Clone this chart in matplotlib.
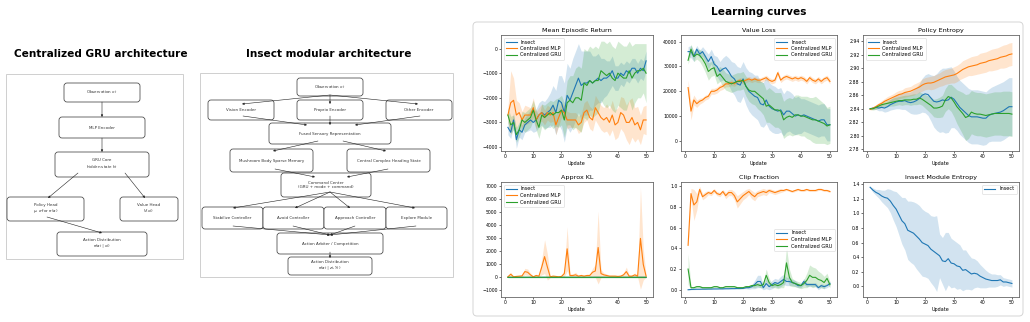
import matplotlib
matplotlib.use("Agg")
import matplotlib.pyplot as plt
from matplotlib.patches import FancyBboxPatch, Rectangle
import numpy as np

# ---------------- data ----------------
updates = list(range(1, 51))
series_names = ["Insect", "Centralized MLP", "Centralized GRU"]

ret_insect = [-3200, -3400, -2900, -3700, -3300, -3400, -3100, -3000, -2900, -3000,
              -2900, -2700, -2600, -2700, -2600, -2500, -2300, -2600, -2100, -2200,
              -2600, -1900, -2100, -1800, -1500, -1200, -1500, -1400, -1400, -1300,
              -1400, -1300, -1200, -1300, -1200, -1200, -1100, -900, -1200, -1200,
              -1000, -1100, -900, -1000, -800, -800, -1000, -800, -900, -500]
ret_insect_std = [300, 250, 300, 350, 300, 300, 300, 350, 400, 400,
                  450, 500, 500, 550, 600, 700, 800, 900, 1000, 1100,
                  1200, 1300, 1300, 1400, 1400, 1400, 1400, 1300, 1300, 1200,
                  1100, 1000, 1000, 900, 800, 700, 600, 600, 500, 500,
                  450, 450, 400, 400, 400, 400, 400, 400, 400, 400]
ret_mlp = [-2700, -2200, -2100, -2700, -2600, -2900, -2700, -2700, -2700, -2400,
           -2900, -2700, -2600, -2800, -2600, -2700, -2600, -3100, -2800, -2500,
           -2600, -2900, -2900, -2900, -2900, -3100, -3000, -2600, -2500, -2800,
           -2900, -2400, -2600, -2800, -2900, -2800, -3000, -2700, -3100, -3000,
           -2600, -2700, -3000, -3000, -2800, -3100, -3000, -3300, -2900, -2900]
ret_mlp_std = [300, 1300, 900, 600, 400, 350, 400, 350, 300, 400,
               350, 300, 350, 300, 300, 300, 350, 400, 350, 300,
               300, 350, 300, 300, 300, 350, 350, 400, 400, 450,
               450, 500, 500, 500, 500, 550, 550, 600, 600, 600,
               650, 700, 700, 900, 800, 700, 650, 600, 550, 600]
ret_gru = [-2700, -3100, -3000, -3500, -3300, -2900, -3000, -2900, -2800, -2500,
           -2900, -3200, -2700, -2800, -2700, -2600, -2700, -2600, -2600, -2500,
           -2900, -2200, -2100, -2200, -2000, -2000, -2100, -1400, -1500, -1300,
           -1400, -1300, -1300, -900, -1000, -1100, -1000, -1200, -1300, -1000,
           -1100, -1200, -1200, -900, -1200, -1000, -900, -900, -800, -1000]
ret_gru_std = [300, 350, 300, 300, 300, 350, 400, 400, 400, 400,
               400, 450, 450, 500, 500, 500, 550, 550, 600, 600,
               700, 900, 1000, 1100, 1200, 1300, 1300, 1400, 1400, 1400,
               1400, 1400, 1300, 1200, 1300, 1300, 1300, 1300, 1300, 1300,
               1300, 1300, 1300, 1200, 1300, 1200, 1100, 1100, 1000, 1200]

vl_insect = [36000, 36000, 34000, 37000, 35000, 36000, 34000, 32000, 34000, 31000,
             30000, 28000, 29000, 29500, 28000, 26000, 25000, 23000, 22500, 25000,
             22000, 20000, 19000, 18000, 17500, 15000, 14500, 16500, 14000, 13000,
             12500, 12000, 12500, 10500, 12000, 12000, 11000, 10000, 10500, 10000,
             10500, 10000, 9500, 9000, 8500, 8000, 8500, 8500, 6500, 6500]
vl_insect_std = [2000, 2500, 2000, 1500, 1500, 2000, 2500, 3000, 3000, 3500,
                 4000, 4000, 4500, 5000, 5500, 6000, 6500, 7000, 7000, 7000,
                 7500, 8000, 8500, 8500, 9000, 9000, 9000, 9500, 9500, 9500,
                 9500, 9000, 9000, 8500, 8500, 8000, 8000, 7500, 7500, 7000,
                 6500, 6500, 6500, 6500, 6500, 6500, 6500, 6500, 6500, 6500]
vl_mlp = [21500, 12000, 16500, 15000, 16000, 16500, 17500, 18000, 20000, 20000,
          20500, 21500, 22000, 23000, 23000, 23500, 23000, 24000, 24500, 24000,
          24500, 25000, 24500, 25000, 24500, 24500, 25000, 25500, 24500, 24000,
          24500, 27500, 24500, 25500, 26000, 25500, 25000, 25500, 25000, 25500,
          25000, 24000, 25500, 24500, 24000, 25000, 24000, 25000, 25500, 24000]
vl_mlp_std = [3000, 3500, 2000, 1500, 1200, 1000, 1000, 1000, 1200, 1200,
              1200, 1200, 1200, 1200, 1200, 1200, 1000, 1000, 1000, 1000,
              1000, 1000, 1000, 1000, 1000, 1000, 1000, 1000, 1000, 1000,
              1000, 1000, 1000, 1000, 1000, 1000, 1000, 1000, 1000, 1000,
              1000, 1000, 1000, 1000, 1000, 1000, 1000, 1000, 1000, 1000]
vl_gru = [32500, 37000, 34000, 35000, 34500, 33000, 31000, 28000, 29000, 29500,
          26000, 27000, 25500, 24000, 23500, 23000, 23500, 24000, 24000, 24500,
          22000, 20500, 20000, 20000, 19000, 18000, 17000, 14000, 14500, 13500,
          12500, 12500, 12000, 8500, 9500, 10000, 9500, 10500, 10500, 10000,
          10000, 9500, 9000, 8500, 8500, 8000, 7500, 7000, 6000, 6500]
vl_gru_std = [1500, 2000, 2000, 2000, 2500, 3000, 3500, 3500, 3000, 3000,
              3000, 3000, 3500, 3500, 3500, 3500, 3500, 3500, 3500, 3500,
              4000, 4500, 5000, 5500, 6000, 6000, 6500, 6500, 7000, 7000,
              7000, 7000, 7500, 7500, 7500, 7500, 7500, 8000, 8000, 8000,
              8000, 8500, 8500, 9000, 9500, 9000, 8500, 8000, 7500, 7500]

pe_insect = [2.840, 2.841, 2.842, 2.841, 2.842, 2.841, 2.843, 2.846, 2.848, 2.850,
             2.851, 2.851, 2.852, 2.850, 2.849, 2.850, 2.852, 2.855, 2.860, 2.862,
             2.861, 2.856, 2.851, 2.850, 2.851, 2.853, 2.852, 2.853, 2.857, 2.854,
             2.848, 2.842, 2.838, 2.834, 2.830, 2.828, 2.828, 2.828, 2.827, 2.826,
             2.826, 2.830, 2.832, 2.833, 2.834, 2.835, 2.837, 2.840, 2.843, 2.843]
pe_insect_std = [0.001, 0.002, 0.003, 0.004, 0.005, 0.006, 0.007, 0.008, 0.009, 0.010,
                 0.011, 0.012, 0.013, 0.014, 0.016, 0.018, 0.020, 0.022, 0.025, 0.028,
                 0.031, 0.034, 0.038, 0.042, 0.046, 0.047, 0.048, 0.048, 0.045, 0.042,
                 0.040, 0.040, 0.040, 0.040, 0.040, 0.040, 0.040, 0.040, 0.040, 0.040,
                 0.039, 0.039, 0.040, 0.041, 0.042, 0.043, 0.043, 0.043, 0.043, 0.043]
pe_mlp = [2.839, 2.841, 2.843, 2.846, 2.848, 2.851, 2.853, 2.855, 2.857, 2.859,
          2.861, 2.862, 2.864, 2.865, 2.866, 2.868, 2.870, 2.872, 2.875, 2.877,
          2.878, 2.878, 2.879, 2.881, 2.883, 2.885, 2.887, 2.888, 2.889, 2.890,
          2.892, 2.895, 2.898, 2.900, 2.902, 2.903, 2.904, 2.905, 2.907, 2.908,
          2.909, 2.911, 2.912, 2.913, 2.914, 2.916, 2.917, 2.918, 2.920, 2.921]
pe_mlp_std = [0.001, 0.002, 0.003, 0.003, 0.004, 0.004, 0.005, 0.005, 0.005, 0.006,
              0.006, 0.006, 0.007, 0.007, 0.007, 0.008, 0.008, 0.008, 0.009, 0.009,
              0.009, 0.010, 0.010, 0.010, 0.010, 0.011, 0.011, 0.011, 0.011, 0.012,
              0.012, 0.012, 0.013, 0.013, 0.013, 0.014, 0.014, 0.014, 0.015, 0.015,
              0.015, 0.015, 0.016, 0.016, 0.016, 0.016, 0.017, 0.017, 0.017, 0.017]
pe_gru = [2.840, 2.840, 2.842, 2.844, 2.846, 2.847, 2.848, 2.849, 2.850, 2.851,
          2.852, 2.852, 2.853, 2.853, 2.853, 2.854, 2.854, 2.856, 2.854, 2.851,
          2.848, 2.845, 2.841, 2.841, 2.842, 2.844, 2.853, 2.858, 2.856, 2.850,
          2.843, 2.838, 2.833, 2.827, 2.829, 2.835, 2.833, 2.832, 2.832, 2.831,
          2.830, 2.831, 2.832, 2.833, 2.833, 2.833, 2.833, 2.833, 2.833, 2.832]
pe_gru_std = [0.001, 0.002, 0.003, 0.003, 0.004, 0.004, 0.005, 0.005, 0.006, 0.006,
              0.006, 0.007, 0.007, 0.007, 0.008, 0.008, 0.008, 0.009, 0.009, 0.010,
              0.011, 0.012, 0.013, 0.014, 0.015, 0.016, 0.017, 0.018, 0.020, 0.022,
              0.025, 0.028, 0.031, 0.034, 0.033, 0.032, 0.032, 0.032, 0.032, 0.032,
              0.032, 0.032, 0.032, 0.032, 0.032, 0.032, 0.033, 0.033, 0.033, 0.033]

kl_insect = [5, 6, 6, 5, 5, 6, 7, 6, 5, 5,
             6, 6, 7, 8, 7, 6, 5, 5, 6, 6,
             6, 7, 6, 6, 6, 5, 6, 6, 6, 6,
             7, 7, 8, 6, 6, 6, 5, 5, 6, 6,
             6, 6, 7, 6, 6, 6, 6, 8, 7, 6]
kl_insect_std = [3] * 50
kl_mlp = [50, 250, 50, 80, 100, 120, 450, 400, 200, 50,
          150, 100, 800, 1600, 800, 50, 100, 80, 50, 80,
          300, 2200, 150, 150, 200, 100, 150, 100, 150, 150,
          400, 500, 2300, 300, 200, 150, 100, 100, 100, 80,
          100, 200, 450, 100, 100, 200, 100, 3000, 1000, 100]
kl_mlp_std = [30, 150, 30, 40, 50, 60, 250, 250, 120, 40,
              100, 80, 600, 1300, 1000, 60, 80, 60, 40, 60,
              250, 1700, 120, 120, 200, 80, 100, 80, 100, 100,
              300, 500, 2800, 300, 150, 120, 80, 80, 80, 60,
              80, 150, 350, 80, 80, 150, 80, 3900, 1200, 80]
kl_gru = [15, 14, 15, 16, 15, 14, 15, 16, 15, 15,
          14, 15, 15, 16, 15, 15, 14, 15, 15, 16,
          15, 15, 14, 15, 15, 16, 15, 15, 14, 15,
          15, 16, 15, 15, 14, 15, 15, 16, 15, 15,
          14, 15, 15, 16, 15, 15, 14, 15, 15, 16]
kl_gru_std = [55] * 50

cf_insect = [0.000, 0.003, 0.004, 0.005, 0.005, 0.006, 0.006, 0.007, 0.007, 0.008,
             0.008, 0.009, 0.009, 0.010, 0.010, 0.011, 0.011, 0.012, 0.012, 0.013,
             0.020, 0.020, 0.030, 0.050, 0.080, 0.080, 0.020, 0.060, 0.030, 0.050,
             0.070, 0.060, 0.080, 0.100, 0.080, 0.080, 0.070, 0.060, 0.040, 0.040,
             0.080, 0.050, 0.050, 0.050, 0.050, 0.020, 0.040, 0.030, 0.040, 0.060]
cf_insect_std = [0.003, 0.003, 0.003, 0.003, 0.003, 0.003, 0.003, 0.003, 0.003, 0.003,
                 0.003, 0.003, 0.003, 0.003, 0.003, 0.003, 0.003, 0.003, 0.003, 0.003,
                 0.010, 0.015, 0.020, 0.040, 0.060, 0.060, 0.020, 0.050, 0.030, 0.040,
                 0.040, 0.040, 0.050, 0.050, 0.040, 0.040, 0.030, 0.030, 0.020, 0.020,
                 0.030, 0.020, 0.020, 0.020, 0.020, 0.020, 0.020, 0.020, 0.020, 0.020]
cf_mlp = [0.43, 0.93, 0.82, 0.85, 0.97, 0.90, 0.92, 0.94, 0.93, 0.96,
          0.93, 0.92, 0.95, 0.91, 0.94, 0.94, 0.91, 0.85, 0.88, 0.91,
          0.93, 0.95, 0.92, 0.90, 0.93, 0.94, 0.95, 0.94, 0.96, 0.95,
          0.94, 0.95, 0.96, 0.96, 0.97, 0.96, 0.95, 0.96, 0.97, 0.96,
          0.96, 0.97, 0.96, 0.96, 0.96, 0.97, 0.97, 0.96, 0.96, 0.95]
cf_mlp_std = [0.02, 0.05, 0.15, 0.08, 0.03, 0.03, 0.03, 0.02, 0.02, 0.02,
              0.02, 0.02, 0.02, 0.03, 0.03, 0.03, 0.04, 0.06, 0.05, 0.04,
              0.04, 0.03, 0.04, 0.04, 0.03, 0.03, 0.03, 0.03, 0.02, 0.02,
              0.02, 0.02, 0.02, 0.01, 0.01, 0.01, 0.01, 0.01, 0.01, 0.01,
              0.01, 0.01, 0.01, 0.01, 0.01, 0.01, 0.01, 0.01, 0.01, 0.01]
cf_gru = [0.20, 0.02, 0.02, 0.03, 0.03, 0.02, 0.02, 0.02, 0.02, 0.03,
          0.03, 0.02, 0.02, 0.03, 0.03, 0.03, 0.03, 0.02, 0.02, 0.02,
          0.03, 0.03, 0.04, 0.04, 0.05, 0.04, 0.05, 0.14, 0.07, 0.04,
          0.05, 0.04, 0.05, 0.07, 0.26, 0.12, 0.07, 0.06, 0.05, 0.04,
          0.06, 0.09, 0.14, 0.12, 0.12, 0.10, 0.09, 0.07, 0.11, 0.05]
cf_gru_std = [0.15, 0.01, 0.01, 0.01, 0.01, 0.01, 0.01, 0.01, 0.01, 0.01,
              0.01, 0.01, 0.01, 0.01, 0.01, 0.01, 0.01, 0.01, 0.01, 0.01,
              0.01, 0.01, 0.015, 0.02, 0.02, 0.02, 0.03, 0.06, 0.04, 0.02,
              0.03, 0.03, 0.03, 0.05, 0.15, 0.08, 0.04, 0.03, 0.03, 0.03,
              0.04, 0.07, 0.10, 0.10, 0.09, 0.08, 0.07, 0.06, 0.05, 0.03]

me_insect = [1.36, 1.32, 1.29, 1.27, 1.24, 1.22, 1.21, 1.17, 1.11, 1.06,
             0.98, 0.90, 0.86, 0.77, 0.75, 0.73, 0.69, 0.65, 0.60, 0.58,
             0.56, 0.51, 0.48, 0.45, 0.42, 0.35, 0.34, 0.38, 0.32, 0.31,
             0.28, 0.27, 0.22, 0.23, 0.20, 0.17, 0.18, 0.17, 0.14, 0.12,
             0.10, 0.09, 0.08, 0.08, 0.08, 0.09, 0.06, 0.06, 0.05, 0.04]
me_insect_std = [0.01, 0.03, 0.04, 0.06, 0.08, 0.10, 0.13, 0.16, 0.20, 0.24,
                 0.28, 0.32, 0.36, 0.40, 0.42, 0.43, 0.45, 0.46, 0.46, 0.45,
                 0.45, 0.46, 0.48, 0.52, 0.30, 0.32, 0.40, 0.36, 0.34, 0.32,
                 0.32, 0.30, 0.28, 0.27, 0.24, 0.22, 0.20, 0.18, 0.16, 0.14,
                 0.12, 0.10, 0.09, 0.09, 0.08, 0.07, 0.06, 0.05, 0.05, 0.05]

# ---------------- figure ----------------
W, H = 1030, 322
fig = plt.figure(figsize=(W / 100, H / 100), dpi=100)
bg = fig.add_axes([0, 0, 1, 1])
bg.set_xlim(0, W)
bg.set_ylim(H, 0)
bg.axis("off")

edge = "#333333"
tfs = 2.9


def box(x0, y0, x1, y1, text):
    bg.add_patch(FancyBboxPatch((x0, y0), x1 - x0, y1 - y0,
                                boxstyle="round,pad=0,rounding_size=3",
                                fc="white", ec=edge, lw=0.5))
    bg.text((x0 + x1) / 2, (y0 + y1) / 2, text, fontsize=tfs, color="#333333",
            ha="center", va="center", linespacing=1.1)


def arrow(x0, y0, x1, y1):
    bg.annotate("", xy=(x1, y1), xytext=(x0, y0),
                arrowprops=dict(arrowstyle="-|>", lw=0.4, color="#222222",
                                mutation_scale=3, shrinkA=0, shrinkB=0))


# panel frames
bg.add_patch(Rectangle((6, 74), 177, 185, fc="none", ec="#cfcfcf", lw=0.7))
bg.add_patch(Rectangle((200, 73), 253, 204, fc="none", ec="#cfcfcf", lw=0.7))
bg.add_patch(FancyBboxPatch((473, 22), 550, 294, boxstyle="round,pad=0,rounding_size=4",
                            fc="none", ec="#d5d5d5", lw=0.7))

title_kw = dict(fontsize=7.6, fontweight="bold", ha="center", va="center", color="black")
bg.text(101, 54, "Centralized GRU architecture", **title_kw)
bg.text(329, 54, "Insect modular architecture", **title_kw)
bg.text(759, 12, "Learning curves", **title_kw)

# --- centralized GRU diagram ---
box(64, 83, 140, 102, "Observation $o_t$")
box(59, 117, 145, 138, "MLP Encoder")
box(55, 152, 149, 177, "GRU Core\nhidden state $h_t$")
box(7, 197, 84, 221, "Policy Head\n$\\mu$, $\\sigma$ for $\\pi(a)$")
box(120, 197, 178, 221, "Value Head\n$V(o_t)$")
box(57, 232, 147, 256, "Action Distribution\n$\\pi(a_t \\mid o_t)$")
arrow(102, 102, 102, 117)
arrow(102, 138, 102, 152)
arrow(78, 173, 48, 198)
arrow(125, 173, 145, 198)
arrow(47, 217, 102, 233)

# --- insect modular diagram ---
box(297, 78, 363, 96, "Observation $o_t$")
box(208, 100, 274, 120, "Vision Encoder")
box(297, 100, 363, 120, "Proprio Encoder")
box(386, 100, 452, 120, "Other Encoder")
box(269, 123, 391, 144, "Fused Sensory Representation")
box(230, 149, 313, 172, "Mushroom Body Sparse Memory")
box(347, 149, 430, 172, "Central Complex Heading State")
box(281, 173, 371, 197, "Command Center\n(GRU + mode + command)")
box(202, 207, 263, 229, "Stabilize Controller")
box(263, 207, 324, 229, "Avoid Controller")
box(324, 207, 386, 229, "Approach Controller")
box(386, 207, 447, 229, "Explore Module")
box(277, 233, 383, 254, "Action Arbiter / Competition")
box(288, 257, 372, 275, "Action Distribution\n$\\pi(a_t \\mid z_t, Y_t)$")
arrow(330, 95, 242, 104)
arrow(330, 95, 330, 104)
arrow(330, 95, 418, 104)
arrow(243, 116, 307, 125)
arrow(330, 116, 330, 125)
arrow(420, 116, 355, 125)
arrow(318, 141, 273, 151)
arrow(343, 141, 386, 151)
arrow(275, 169, 315, 177)
arrow(388, 169, 347, 177)
arrow(330, 192, 233, 208)
arrow(330, 192, 295, 208)
arrow(330, 192, 350, 208)
arrow(330, 192, 415, 208)
arrow(233, 226, 330, 235)
arrow(293, 226, 330, 235)
arrow(355, 226, 330, 235)
arrow(416, 226, 330, 235)
arrow(330, 252, 330, 258)

# ---------------- learning curves ----------------
colors = ["#1f77b4", "#ff7f0e", "#2ca02c"]


def px_axes(l, t, r, b):
    return fig.add_axes([l / W, 1 - b / H, (r - l) / W, (b - t) / H])


def style(ax, title, ylim):
    ax.set_title(title, fontsize=4.6, pad=2)
    ax.set_xlabel("Update", fontsize=3.5, labelpad=1.2)
    ax.set_ylim(*ylim)
    ax.set_xticks([0, 10, 20, 30, 40, 50])
    ax.tick_params(labelsize=3.3, length=1.5, width=0.4, pad=1)
    for s in ax.spines.values():
        s.set_color("#666666")
        s.set_linewidth(0.6)


def curves(ax, means, stds, loc, names=series_names):
    x = np.array(updates)
    for m, s, c, name in zip(means, stds, colors, names):
        m = np.array(m, dtype=float)
        s = np.array(s, dtype=float)
        ax.fill_between(x, m - s, m + s, color=c, alpha=0.2, lw=0)
        ax.plot(x, m, color=c, lw=0.8, label=name)
    leg = ax.legend(loc=loc, fontsize=3.6, handlelength=2.2, borderpad=0.4,
                    labelspacing=0.3, handletextpad=0.8, borderaxespad=0.5)
    leg.get_frame().set_linewidth(0.4)


rows = [(35, 151), (182, 297)]
cols = [(501, 653), (681, 837), (863, 1019)]

ax = px_axes(cols[0][0], rows[0][0], cols[0][1], rows[0][1])
curves(ax, [ret_insect, ret_mlp, ret_gru], [ret_insect_std, ret_mlp_std, ret_gru_std], "upper left")
style(ax, "Mean Episodic Return", (-4160, 550))

ax = px_axes(cols[1][0], rows[0][0], cols[1][1], rows[0][1])
curves(ax, [vl_insect, vl_mlp, vl_gru], [vl_insect_std, vl_mlp_std, vl_gru_std], "upper right")
style(ax, "Value Loss", (-4070, 42700))

ax = px_axes(cols[2][0], rows[0][0], cols[2][1], rows[0][1])
curves(ax, [pe_insect, pe_mlp, pe_gru], [pe_insect_std, pe_mlp_std, pe_gru_std], "upper left")
style(ax, "Policy Entropy", (2.7775, 2.949))

ax = px_axes(cols[0][0], rows[1][0], cols[0][1], rows[1][1])
curves(ax, [kl_insect, kl_mlp, kl_gru], [kl_insect_std, kl_mlp_std, kl_gru_std], "upper left")
style(ax, "Approx KL", (-1500, 7330))

ax = px_axes(cols[1][0], rows[1][0], cols[1][1], rows[1][1])
curves(ax, [cf_insect, cf_mlp, cf_gru], [cf_insect_std, cf_mlp_std, cf_gru_std], "center right")
style(ax, "Clip Fraction", (-0.07, 1.042))

ax = px_axes(cols[2][0], rows[1][0], cols[2][1], rows[1][1])
curves(ax, [me_insect], [me_insect_std], "upper right", names=["Insect"])
style(ax, "Insect Module Entropy", (-0.146, 1.432))

fig.savefig("out.png", dpi=100)
